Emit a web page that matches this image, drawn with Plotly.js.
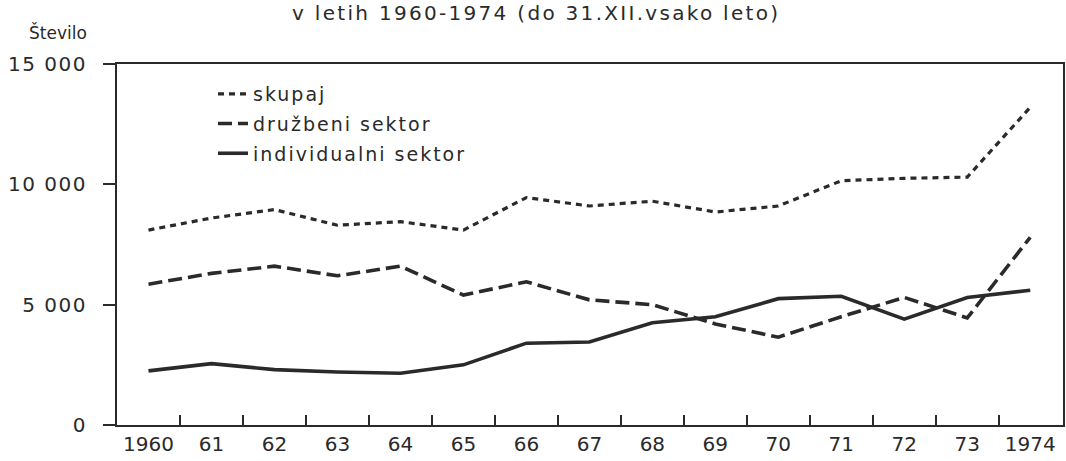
<!DOCTYPE html>
<html><head><meta charset="utf-8">
<script src="https://cdn.plot.ly/plotly-3.0.1.min.js"></script>
<style>
html,body{margin:0;padding:0;background:#fff}
#chart{width:1066px;height:461px}
#chart .legendtext{letter-spacing:2px}
#chart .legend, #chart .legend g{clip-path:none !important}
#chart .gtitle{letter-spacing:2.3px}
#chart .ytick text{letter-spacing:1.5px}
</style>
</head><body><div id="chart"></div>
<script>
const years = [1960,1961,1962,1963,1964,1965,1966,1967,1968,1969,1970,1971,1972,1973,1974];
const yearLabels = ['1960','61','62','63','64','65','66','67','68','69','70','71','72','73','1974'];
const skupaj = [8100,8600,8950,8300,8450,8100,9450,9100,9300,8850,9100,10150,10250,10300,13200];
const druzbeni = [5850,6300,6600,6200,6600,5400,5950,5200,5000,4200,3650,4500,5300,4450,7800];
const individualni = [2250,2550,2300,2200,2150,2500,3400,3450,4250,4500,5250,5350,4400,5300,5600];
const seriesNames = ['skupaj','družbeni sektor','individualni sektor'];
const yTickVals = [0,5000,10000,15000];
const yTickText = ['0','5 000','10 000','15 000'];
const titleText = 'v letih 1960-1974 (do 31.XII.vsako leto)';
const yLabel = 'Število';

const FONT = 'DejaVu Sans';
const INK = '#2a2a2a';
const midTicks = years.slice(0,-1).map(y => y + 0.5);

const traces = [
  {x: years, y: skupaj, name: seriesNames[0], mode:'lines', line:{color:INK, width:3.2, dash:'6px,5px'}, legendgroup:'a'},
  {x: years, y: druzbeni, name: seriesNames[1], mode:'lines', line:{color:INK, width:3.6, dash:'14px,6px'}, legendgroup:'b'},
  {x: years, y: individualni, name: seriesNames[2], mode:'lines', line:{color:INK, width:3.6}, legendgroup:'c'},
  {x: [years[0]], y: [null], xaxis:'x2', showlegend:false, hoverinfo:'skip', mode:'lines'}
];

const layout = {
  width: 1066, height: 461,
  margin: {l:117, r:3, t:64, b:36},
  paper_bgcolor:'#fff', plot_bgcolor:'#fff',
  font: {family: FONT, color: INK, size: 18},
  showlegend: true,
  legend: {x: (213-117)/946, y: 1 - 11/361, xanchor:'left', yanchor:'top', bgcolor:'rgba(0,0,0,0)',
           font:{size:19, family:FONT, color:INK}, traceorder:'grouped', tracegroupgap:2},
  title: {text: titleText, x: 0.503, xref:'container', xanchor:'center',
          y: 1, yref:'container', yanchor:'top', pad:{t:6,b:0,l:0,r:0}, font:{size:20, family:FONT, color:INK}},
  xaxis: {range:[1959.5, 1974.52], tickvals: years, ticktext: yearLabels, ticks:'',
          showline:true, linecolor:INK, linewidth:2, mirror:true, showgrid:false, zeroline:false,
          tickfont:{size:20, family:FONT, color:INK}},
  xaxis2: {overlaying:'x', matches:'x', range:[1959.5, 1974.52], tickvals: midTicks, ticks:'inside',
           ticklen:10, tickwidth:2, tickcolor:INK, showticklabels:false, showgrid:false, zeroline:false,
           showline:false, side:'bottom'},
  yaxis: {range:[0,15000], tickvals:yTickVals, ticktext:yTickText, ticks:'outside', ticklen:12,
          tickwidth:2, tickcolor:INK, ticklabelstandoff:12, showline:true, linecolor:INK, linewidth:2,
          mirror:true, showgrid:false, zeroline:false, tickfont:{size:20, family:FONT, color:INK}},
  annotations: [
    {text: yLabel, xref:'paper', yref:'paper', x:(27-117)/946, y:1+ (64-33)/361, xanchor:'left', yanchor:'middle',
     showarrow:false, font:{size:17, family:FONT, color:INK}}
  ]
};

Plotly.newPlot('chart', traces, layout, {staticPlot:true, displayModeBar:false});
</script>
</body></html>
